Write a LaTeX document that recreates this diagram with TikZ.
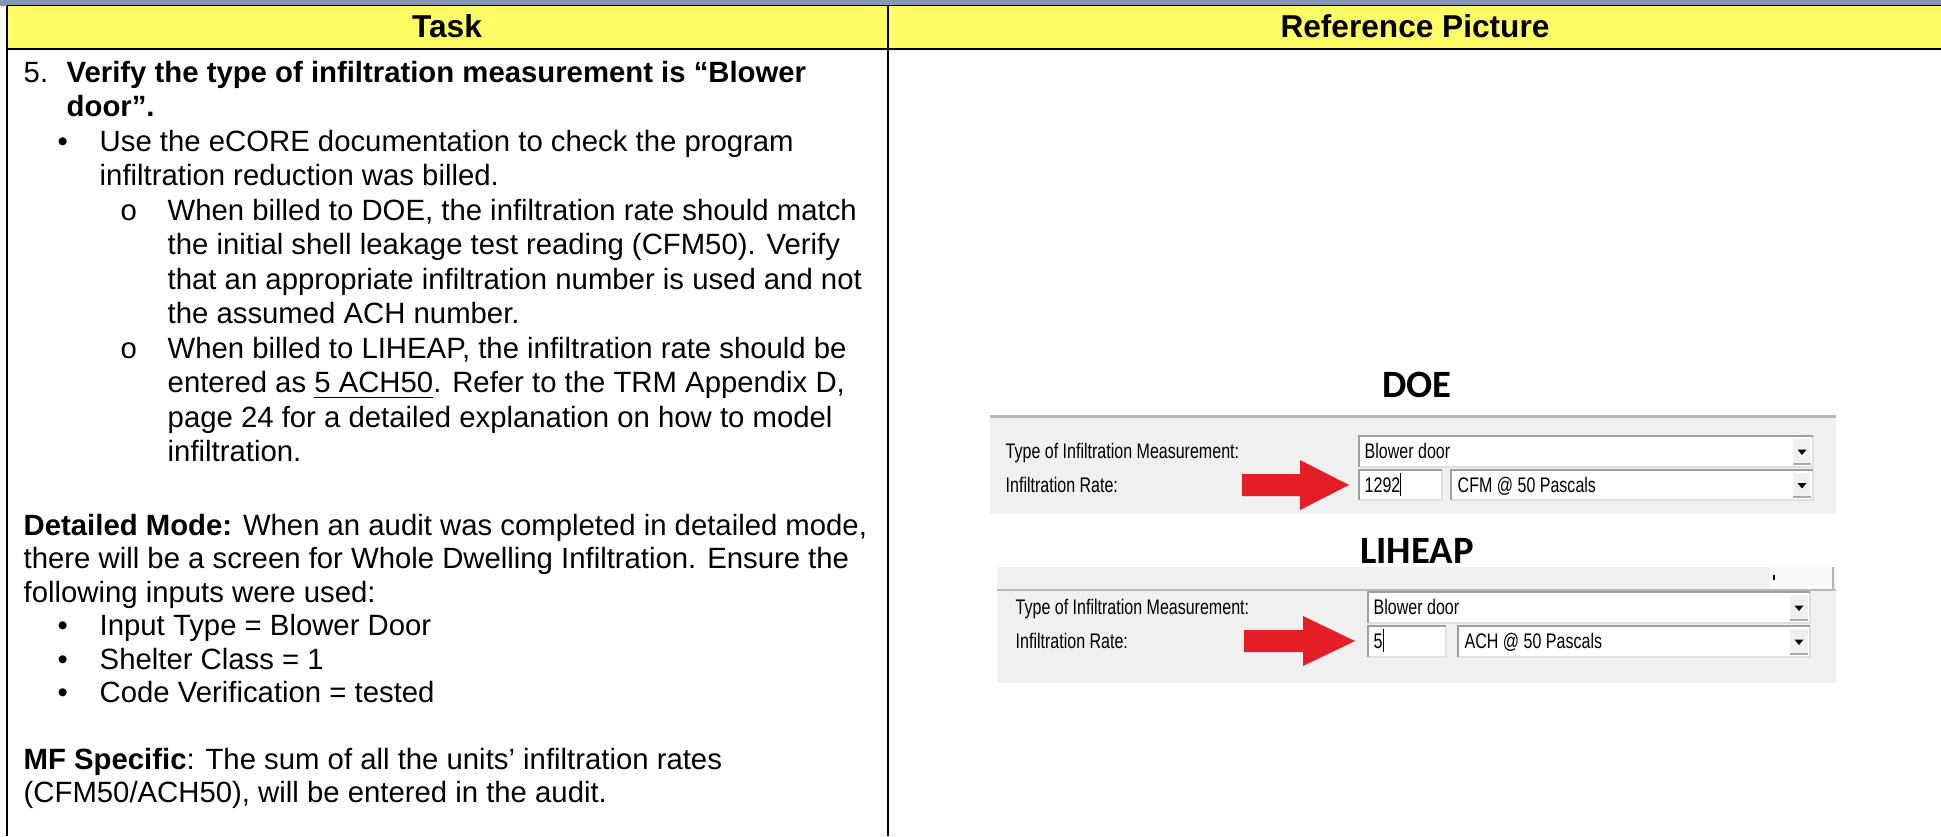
\documentclass[tikz,border=0pt]{standalone}
\usepackage{fontspec}
\setmainfont{Liberation Sans}
\newfontfamily\capfont{Carlito}
\newfontfamily\uifont[FakeStretch=0.76]{Liberation Sans}
\usetikzlibrary{positioning, calc}

\definecolor{bandblue}{HTML}{8496B0}
\definecolor{headyellow}{HTML}{FFFC66}
\definecolor{panelgray}{HTML}{F0F0F0}
\definecolor{arrowred}{HTML}{E41E26}

\begin{document}
\begin{tikzpicture}[
    x=0.1mm, y=-0.1mm,
    body/.style={inner sep=0pt, anchor=base west, font=\fontsize{8.34}{10}\selectfont},
    body_bold/.style={body, font=\fontsize{8.34}{10}\selectfont\bfseries},
    head_text/.style={inner sep=0pt, anchor=base, font=\fontsize{9}{10}\selectfont\bfseries},
    shot_title/.style={inner sep=0pt, anchor=base, font=\capfont\fontsize{11}{13}\selectfont\bfseries},
    ui_text/.style={inner sep=0pt, anchor=base west, font=\uifont\fontsize{6}{7}\selectfont},
    grid_line/.style={line width=0.57pt},
    shot_panel/.style={fill=panelgray},
    field_dark/.style={draw=gray!75, line width=0.6pt},
    field_light/.style={draw=gray!25, line width=0.5pt},
    red_arrow/.style={fill=arrowred}
]
\useasboundingbox (0,0) rectangle (1941,836);

% Macros for repeated elements
\def\colSplit{888}

% white input box, sunken edge: x1, y1, x2, y2
\newcommand{\drawField}[4]{
    \fill[white] (#1,#2) rectangle (#3,#4);
    \draw[field_light] (#1,#4) -- (#3,#4) -- (#3,#2);
    \draw[field_dark] (#1,#4) -- (#1,#2) -- (#3,#2);
}
% drop-down button: right edge, top, bottom
\newcommand{\drawDrop}[3]{
    \fill[gray!12] ({#1-20},{#2+3}) rectangle ({#1-2},{#3-3});
    \draw[gray!65, line width=0.5pt] ({#1-20},{#3-3}) -- ({#1-2},{#3-3});
    \fill[black] ({#1-15.5},{(#2+#3)/2-2}) -- ++(9,0) -- ++(-4.5,5.5) -- cycle;
}
% block arrow: tail x, centre y, shaft length, head length
\newcommand{\drawRedArrow}[4]{
    \fill[red_arrow] (#1,{#2-11}) -- ++(#3,0) -- ++(0,-14) -- ++(#4,25)
        -- ++(-#4,25) -- ++(0,-14) -- ++(-#3,0) -- cycle;
}

% ==========================================
% Table frame and header row
\fill[bandblue] (0,0) rectangle (1941,5.5);
\fill[headyellow] (7,6) rectangle (1941,48);
\draw[line width=0.3pt] (7,5.8) -- (1941,5.8);
\draw[line width=0.75pt] (7,49) -- (1941,49);
\draw[line width=0.45pt] (7,5.5) -- (7,836);
\draw[grid_line] (\colSplit,5.5) -- (\colSplit,836);

\node[head_text] (task) at (447,37.5) {Task};
\node[head_text] (refpic) at (1415,37.5) {Reference Picture};

% ==========================================
% Left column: step 5
\node[body] (num5) at (23,82) {5.};
\node[body_bold] (l1) at (66,82) {Verify the type of infiltration measurement is “Blower};
\node[body_bold] (l2) at (66,116.5) {door”.};
\node[body] (dot1) at (57,151) {•};
\node[body] (l3) at (99,151) {Use the eCORE documentation to check the program};
\node[body] (l4) at (99,185.5) {infiltration reduction was billed.};
\node[body] (sub1) at (120,220) {o};
\node[body] (l5) at (167,220) {When billed to DOE, the infiltration rate should match};
\node[body] (l6) at (167,254.5) {the initial shell leakage test reading (CFM50). Verify};
\node[body] (l7) at (167,289) {that an appropriate infiltration number is used and not};
\node[body] (l8) at (167,323.5) {the assumed ACH number.};
\node[body] (sub2) at (120,358) {o};
\node[body] (l9) at (167,358) {When billed to LIHEAP, the infiltration rate should be};
\node[body] (l10) at (167,392.5) {entered as \underline{5 ACH50}. Refer to the TRM Appendix D,};
\node[body] (l11) at (167,427) {page 24 for a detailed explanation on how to model};
\node[body] (l12) at (167,461.5) {infiltration.};

% Detailed mode
\node[body] (l13) at (23,535) {\textbf{Detailed Mode:} When an audit was completed in detailed mode,};
\node[body] (l14) at (23,568.5) {there will be a screen for Whole Dwelling Infiltration. Ensure the};
\node[body] (l15) at (23,602) {following inputs were used:};
\node[body] (dot2) at (57,635.5) {•};
\node[body] (l16) at (99,635.5) {Input Type = Blower Door};
\node[body] (dot3) at (57,669) {•};
\node[body] (l17) at (99,669) {Shelter Class = 1};
\node[body] (dot4) at (57,702.5) {•};
\node[body] (l18) at (99,702.5) {Code Verification = tested};

% MF specific
\node[body] (l19) at (23,769) {\textbf{MF Specific}: The sum of all the units’ infiltration rates};
\node[body] (l20) at (23,802.5) {(CFM50/ACH50), will be entered in the audit.};

% ==========================================
% Right column: DOE screen
\node[shot_title] (doe) at (1417,397) {DOE};
\fill[shot_panel] (990,416) rectangle (1836,514);
\draw[gray!55, line width=0.6pt] (990,416.5) -- (1836,416.5);
\node[ui_text] (doe_type) at (1005,458) {Type of Infiltration Measurement:};
\node[ui_text] (doe_rate) at (1005,492) {Infiltration Rate:};
\drawField{1359}{436}{1813}{467}
\drawDrop{1813}{436}{467}
\node[ui_text] (doe_mode) at (1364,458) {Blower door};
\drawField{1359}{470}{1442}{500}
\node[ui_text] (doe_val) at (1364,492) {1292\rule[-1pt]{0.3pt}{6.5pt}};
\drawField{1451}{470}{1813}{500}
\drawDrop{1813}{470}{500}
\node[ui_text] (doe_unit) at (1457,492) {CFM @ 50 Pascals};
\drawRedArrow{1242}{485}{58}{49}

% ==========================================
% Right column: LIHEAP screen
\node[shot_title] (liheap) at (1417,563) {LIHEAP};
\fill[shot_panel] (997,567) rectangle (1836,683);
\fill[white!96!gray] (1770,567) rectangle (1833,589);
\draw[gray!60, line width=0.4pt] (1833,567) -- (1833,589);
\draw[black, line width=0.4pt] (1774,575) -- (1774,580);
\draw[gray!55, line width=0.6pt] (997,590) -- (1836,590);
\node[ui_text] (li_type) at (1015,614) {Type of Infiltration Measurement:};
\node[ui_text] (li_rate) at (1015,648) {Infiltration Rate:};
\drawField{1368}{592}{1810}{623}
\drawDrop{1810}{592}{623}
\node[ui_text] (li_mode) at (1373,614) {Blower door};
\drawField{1368}{626}{1446}{657}
\node[ui_text] (li_val) at (1373,648) {5\rule[-1pt]{0.3pt}{6.5pt}};
\drawField{1458}{626}{1810}{657}
\drawDrop{1810}{626}{657}
\node[ui_text] (li_unit) at (1464,648) {ACH @ 50 Pascals};
\drawRedArrow{1244}{641}{59}{52}

\end{tikzpicture}
\end{document}
